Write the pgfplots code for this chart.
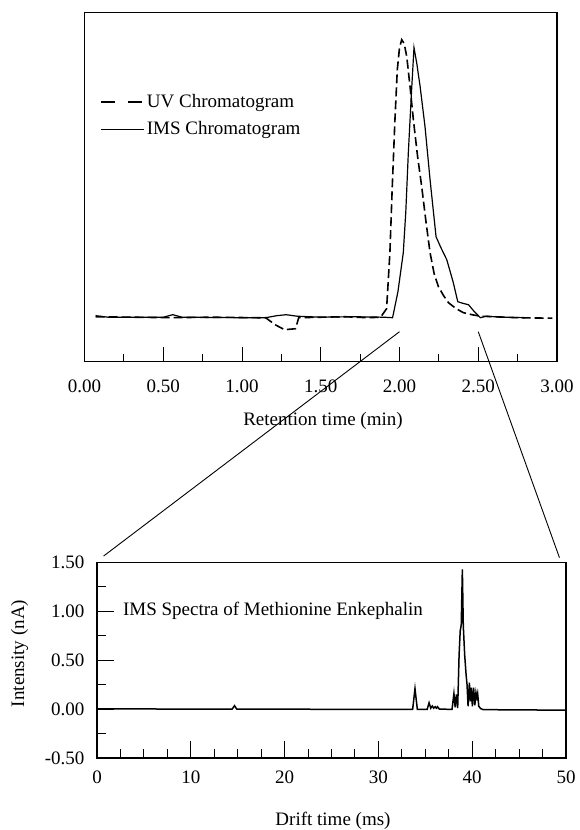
\documentclass[border=0pt]{standalone}
\usepackage{fontspec}
\setmainfont{Liberation Serif}
\usepackage{pgfplots}
\pgfplotsset{compat=1.18}

\pgfplotstableread{
x y
0.07 45
0.30 44.5
0.55 44
0.80 44.5
1.10 44
1.15 44
1.21 37
1.27 32
1.34 33
1.36 44
1.50 44.5
1.65 45
1.80 44
1.88 44.5
1.918 53
1.939 109
1.954 175
1.971 242
1.986 292
2.000 314
2.014 322
2.030 318
2.046 305
2.067 275
2.088 242
2.115 205
2.141 175
2.168 140
2.194 109
2.22 88
2.247 75
2.28 66
2.311 59
2.36 53
2.406 49
2.46 47
2.513 45.5
2.60 45
2.75 44
2.97 43.5
}\uvdata

\pgfplotstableread{
x y
0.07 46
0.15 44.5
0.50 44.5
0.56 47
0.62 44.5
1.00 44
1.15 44
1.22 46
1.28 47
1.35 45.5
1.50 44.5
1.70 45
1.90 44.5
1.956 44
1.99 70
2.024 109
2.04 150
2.056 209
2.078 275
2.092 314
2.11 298
2.131 275
2.162 235
2.194 182
2.232 125
2.26 115
2.30 102
2.34 80
2.37 60
2.40 58.5
2.438 57
2.47 51
2.513 44
2.55 45.5
2.65 44.5
2.80 44
}\imsdata

\pgfplotstableread{
x y
0 0.003
5 0.002
10 0.0
14.4 0.0
14.66 0.035
14.9 0.0
20 0.0
25 -0.002
30 -0.003
33.65 -0.003
33.9 0.21
34.15 -0.003
35.2 -0.002
35.4 0.065
35.58 0.01
35.75 0.032
35.9 0.01
36.05 0.025
36.18 0.01
36.3 0.025
36.5 0.0
37.85 -0.002
38.05 0.16
38.18 0.02
38.32 0.15
38.45 0.01
38.6 0.55
38.72 0.80
38.83 0.86
38.95 1.43
39.05 0.85
39.2 0.55
39.35 0.35
39.45 0.25
39.56 0.03
39.7 0.27
39.8 0.08
39.9 0.22
40.02 0.03
40.15 0.22
40.28 0.04
40.4 0.17
40.5 0.12
40.58 0.16
40.7 0.03
40.9 0.005
41.2 -0.005
45 -0.008
50 -0.01
}\specdata

\begin{document}
\fontsize{19bp}{22bp}\selectfont
\begin{tikzpicture}[x=1bp,y=1bp]
\useasboundingbox (0,0) rectangle (580,-830);

% ---------- top: chromatograms ----------
\begin{axis}[
  at={(84.5bp,-361.7bp)}, anchor=south west,
  scale only axis, width=472.5bp, height=349.4bp,
  xmin=0, xmax=3, ymin=0, ymax=349.4,
  axis line style={line width=1.5bp},
  xtick={0,0.5,1,1.5,2,2.5,3},
  xticklabels={0.00,0.50,1.00,1.50,2.00,2.50,3.00},
  minor xtick={0.25,0.75,1.25,1.75,2.25,2.75},
  ytick=\empty,
  tick align=inside, tick pos=left,
  major tick length=15bp, minor tick length=8bp,
  tick style={line width=1bp, black},
  xticklabel style={yshift=-12bp},
  clip=false,
  legend cell align=left,
  legend style={draw=none, fill=none, anchor=north west,
    at={(axis description cs:0.033,0.772)}, inner sep=0pt,
    row sep=7bp, column sep=0bp, nodes={inner sep=2bp}},
  legend image code/.code={\draw[#1] (0bp,0bp) -- (43bp,0bp);},
]
\addlegendimage{black, line width=1.6bp, dash pattern=on 14bp off 13bp}
\addlegendentry{UV Chromatogram}
\addlegendimage{black, line width=1.2bp}
\addlegendentry{IMS Chromatogram}
\addplot[black, line width=1.6bp, dash pattern=on 9bp off 4bp, forget plot] table[x=x,y=y] {\uvdata};
\addplot[black, line width=1.2bp, forget plot] table[x=x,y=y] {\imsdata};
\coordinate (L1) at (axis cs:2.0,30);
\coordinate (R1) at (axis cs:2.5,30);
\end{axis}

% ---------- bottom: IMS spectrum ----------
\begin{axis}[
  at={(97bp,-758bp)}, anchor=south west,
  scale only axis, width=469bp, height=195.5bp,
  xmin=0, xmax=50, ymin=-0.5, ymax=1.5,
  axis line style={line width=1.2bp},
  xtick={0,10,20,30,40,50},
  xticklabels={0,10,20,30,40,50},
  minor xtick={2.5,5,7.5,12.5,15,17.5,22.5,25,27.5,32.5,35,37.5,42.5,45,47.5},
  ytick={-0.5,0,0.5,1,1.5},
  yticklabels={-0.50,0.00,0.50,1.00,1.50},
  minor ytick={-0.25,0.25,0.75,1.25},
  tick align=inside, tick pos=left,
  major tick length=17bp, minor tick length=9bp,
  tick style={line width=1bp, black},
  xticklabel style={yshift=-6bp},
  yticklabel style={xshift=-6bp},
  clip=false,
]
\addplot[black, line width=1.5bp] table[x=x,y=y] {\specdata};
\node[anchor=base west, inner sep=0pt] at (axis cs:2.76,0.963) {IMS Spectra of Methionine Enkephalin};
\coordinate (L2) at (axis cs:0.7,1.566);
\coordinate (R2) at (axis cs:49.3,1.55);
\end{axis}

\draw[line width=0.9bp] (L1) -- (L2);
\draw[line width=0.9bp] (R1) -- (R2);

\node[anchor=base, inner sep=0pt] at (323,-425.6) {Retention time (min)};
\node[anchor=base, inner sep=0pt] at (333,-825.6) {Drift time (ms)};
\node[rotate=90, anchor=center, inner sep=0pt] at (19.5,-653.5) {Intensity (nA)};
\end{tikzpicture}
\end{document}
